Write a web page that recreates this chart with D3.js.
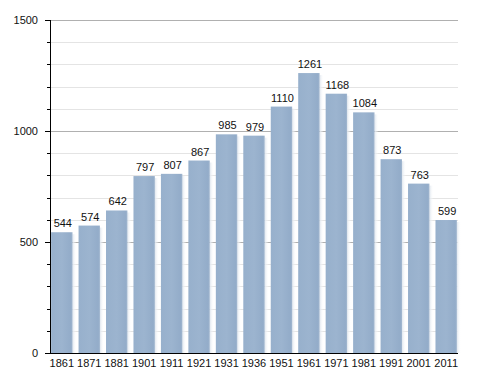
<!DOCTYPE html>
<html><head><meta charset="utf-8">
<script src="https://cdn.jsdelivr.net/npm/d3@7"></script>
<style>body{margin:0;background:#fff}svg{display:block}text{font-family:"Liberation Sans",Arial,sans-serif}</style>
</head><body>
<script>
const years = ["1861","1871","1881","1901","1911","1921","1931","1936","1951","1961","1971","1981","1991","2001","2011"];
const population = [544,574,642,797,807,867,985,979,1110,1261,1168,1084,873,763,599];
const majorTicks = [0,500,1000,1500];
const minorTicks = d3.range(0,1501,100);

const W=488,H=373;
const svg=d3.select("body").append("svg").attr("width",W).attr("height",H);
const x=d3.scaleBand().domain(years).range([50,458]).paddingInner(0.22).paddingOuter(0.04);
const y=d3.scaleLinear().domain([0,1500]).range([353,20]);

const defs=svg.append("defs");
const g=defs.append("linearGradient").attr("id","bg").attr("x1","0").attr("x2","1").attr("y1","0").attr("y2","0");
g.append("stop").attr("offset","0").attr("stop-color","#97b0cc");
g.append("stop").attr("offset","0.5").attr("stop-color","#9cb4cf");
g.append("stop").attr("offset","0.92").attr("stop-color","#93acc9");
g.append("stop").attr("offset","1").attr("stop-color","#a3b8d0");
const gl=defs.append("linearGradient").attr("id","glow").attr("x1","0").attr("x2","1").attr("y1","0").attr("y2","0");
gl.append("stop").attr("offset","0").attr("stop-color","#dfe6ee");
gl.append("stop").attr("offset","1").attr("stop-color","#ffffff").attr("stop-opacity",0);

// gridlines
svg.append("g").selectAll("line").data(minorTicks.filter(d=>d>0)).join("line")
 .attr("x1",51).attr("x2",458).attr("y1",d=>Math.round(y(d))+0.5).attr("y2",d=>Math.round(y(d))+0.5)
 .attr("stroke",d=>d%500===0?"#b0b0b0":"#e4e4e4").attr("stroke-width",1);

// right glow
svg.append("g").selectAll("rect").data(population).join("rect")
 .attr("x",(d,i)=>x(years[i])+x.bandwidth()).attr("width",4)
 .attr("y",d=>y(d)+2).attr("height",d=>y(0)-y(d)-2)
 .attr("fill","url(#glow)");
// bars
svg.append("g").selectAll("rect").data(population).join("rect")
 .attr("x",(d,i)=>x(years[i])).attr("width",x.bandwidth())
 .attr("y",d=>y(d)).attr("height",d=>y(0)-y(d))
 .attr("fill","url(#bg)");

// value labels
svg.append("g").selectAll("text").data(population).join("text")
 .attr("x",(d,i)=>x(years[i])+x.bandwidth()/2+1).attr("y",d=>y(d)-5)
 .attr("text-anchor","middle").attr("font-size",11).attr("fill","#111").text(d=>d);

// y axis
const ya=svg.append("g");
ya.append("line").attr("x1",50.5).attr("x2",50.5).attr("y1",20).attr("y2",354).attr("stroke","#000");
ya.selectAll("line.t").data(minorTicks).join("line").attr("class","t")
 .attr("x1",d=>d%500===0?45:47).attr("x2",50).attr("y1",d=>Math.round(y(d))+0.5).attr("y2",d=>Math.round(y(d))+0.5).attr("stroke","#000");
ya.selectAll("text").data(majorTicks).join("text")
 .attr("x",38).attr("y",d=>y(d)+4).attr("text-anchor","end").attr("font-size",11).attr("fill","#111").text(d=>d);

// x axis
svg.append("line").attr("x1",50).attr("x2",458).attr("y1",353.5).attr("y2",353.5).attr("stroke","#000");
svg.append("g").selectAll("text").data(years).join("text")
 .attr("x",d=>x(d)+x.bandwidth()/2).attr("y",367).attr("text-anchor","middle").attr("font-size",11).attr("fill","#111").text(d=>d);
</script>
</body></html>
